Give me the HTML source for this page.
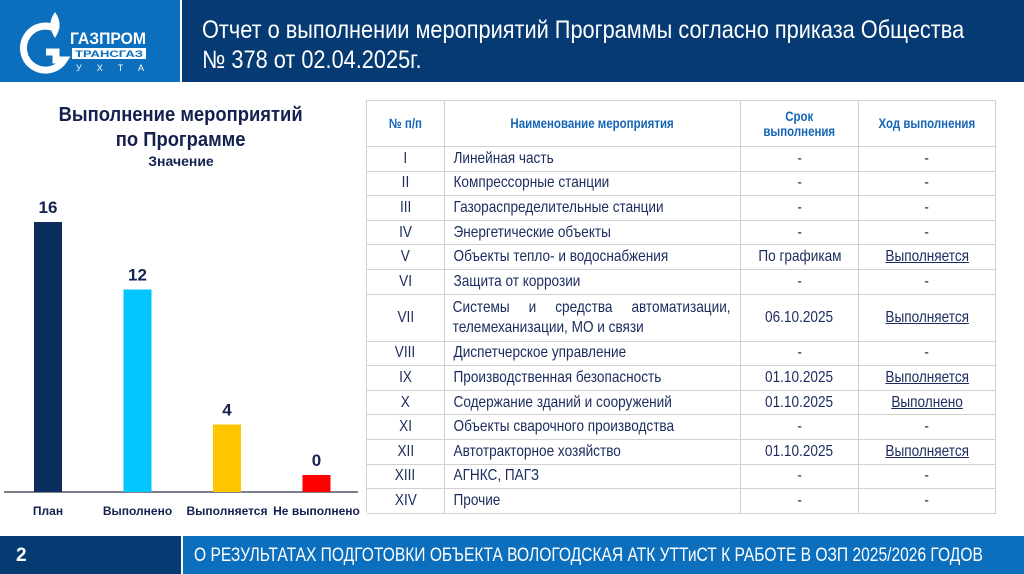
<!DOCTYPE html>
<html><head><meta charset="utf-8">
<style>
*{margin:0;padding:0;box-sizing:border-box}
body{width:1024px;height:574px;position:relative;background:#fff;font-family:"Liberation Sans",sans-serif;color:#1b2b5e;overflow:hidden}
.abs{position:absolute}
.nar{display:inline-block;transform:scaleX(.82);transform-origin:left top;white-space:nowrap}
#hdr-left{left:0;top:0;width:180px;height:82px;background:#0b6fbd}
#hdr-right{left:182px;top:0;width:842px;height:82px;background:#063a72;color:#fff;font-size:25px;line-height:30px;padding:15px 0 0 20px;overflow:hidden}
#hdr-right .nar{transform:scaleX(.87)}
#ftr-left{left:0;top:536px;width:181px;height:38px;background:#063a72;color:#fff;font-weight:bold;font-size:19px;padding:9px 0 0 16px}
#ftr-right{left:183px;top:536px;width:841px;height:38px;background:#0b6fbd;color:#fff;font-size:19px;padding:9px 0 0 11px;white-space:nowrap;overflow:hidden}
.cell{position:absolute;border-right:1px solid #d0d0d0;border-bottom:1px solid #d0d0d0;display:flex;align-items:center;font-size:16px;overflow:hidden}
.c{justify-content:center;text-align:center}
.cell .n{display:inline-block;transform:scaleX(.85);white-space:nowrap}
.c .n{transform-origin:center}
.hd{color:#1565b5;font-weight:bold;font-size:13.5px}
.u{text-decoration:underline}
</style></head><body>
<div class="abs" id="hdr-left">
 <svg width="180" height="82">
  <path d="M55 12 C48 22 50 30 55 38 C60 30 62 22 55 12Z" fill="#fff"/>
  <path d="M58 30 A22 22 0 1 0 64 60 L56 60 L56 52 L46 52" fill="none" stroke="#fff" stroke-width="7"/>
  <text x="70" y="44" fill="#fff" font-family="Liberation Sans,sans-serif" font-weight="bold" font-size="17" textLength="76" lengthAdjust="spacingAndGlyphs">ГАЗПРОМ</text>
  <rect x="72" y="48" width="74" height="11" fill="#fff"/>
  <text x="75" y="57" fill="#0b6fbd" font-family="Liberation Sans,sans-serif" font-weight="bold" font-size="9" textLength="68" lengthAdjust="spacingAndGlyphs">ТРАНСГАЗ</text>
  <text x="76" y="71" fill="#fff" font-family="Liberation Sans,sans-serif" font-size="9" textLength="68">УХТА</text>
 </svg>
</div>
<div class="abs" id="hdr-right"><span class="nar">Отчет о выполнении мероприятий Программы согласно приказа Общества<br>№ 378 от 02.04.2025г.</span></div>

<div class="abs" style="left:0;top:103px;width:362px;text-align:center;font-weight:bold;font-size:20px;line-height:25px;color:#14214f"><span style="display:inline-block;transform:scaleX(.92)">Выполнение мероприятий<br>по Программе</span></div>
<div class="abs" style="left:0;top:153px;width:362px;text-align:center;font-weight:bold;font-size:14px;color:#14214f">Значение</div>
<svg class="abs" id="chart" style="left:0;top:180px" width="362" height="345"></svg>

<div class="abs" id="table" style="left:366px;top:100px;width:630px;height:412px;border-top:1px solid #d0d0d0;border-left:1px solid #d0d0d0"></div>

<div class="abs" id="ftr-left">2</div>
<div class="abs" id="ftr-right"><span class="nar">О РЕЗУЛЬТАТАХ ПОДГОТОВКИ ОБЪЕКТА ВОЛОГОДСКАЯ АТК УТТиСТ К РАБОТЕ В ОЗП 2025/2026 ГОДОВ</span></div>

<script>
const categories=["План","Выполнено","Выполняется","Не выполнено"];
const values=[16,12,4,0];
const colors=["#0a2f5f","#00c5ff","#ffc600","#ff0000"];
const NS="http://www.w3.org/2000/svg";
const svg=document.getElementById('chart');
const base=312, maxV=16, plotH=270;
function yPos(v){return base-Math.max(v/maxV*plotH,17);}
function xc(i){return 48+i*89.5;}
const ax=document.createElementNS(NS,'line');
ax.setAttribute('x1',4);ax.setAttribute('x2',358);ax.setAttribute('y1',base);ax.setAttribute('y2',base);
ax.setAttribute('stroke','#556');ax.setAttribute('stroke-width',1.5);


svg.appendChild(ax);
categories.forEach((c,i)=>{
 const r=document.createElementNS(NS,'rect');
 r.setAttribute('x',xc(i)-14);r.setAttribute('width',28);r.setAttribute('y',yPos(values[i]));r.setAttribute('height',base-yPos(values[i]));
 r.setAttribute('fill',colors[i]);
 
 
 svg.appendChild(r);
 const t=document.createElementNS(NS,'text');
 t.setAttribute('x',xc(i));t.setAttribute('y',yPos(values[i])-9);t.setAttribute('text-anchor','middle');
 t.setAttribute('font-size',17);t.setAttribute('font-weight','bold');t.setAttribute('fill','#14214f');
 t.setAttribute('font-family','Liberation Sans,sans-serif');
 t.textContent=values[i];
 
 
 svg.appendChild(t);
 const l=document.createElementNS(NS,'text');
 l.setAttribute('x',xc(i));l.setAttribute('y',base+23);l.setAttribute('text-anchor','middle');
 l.setAttribute('font-size',12);l.setAttribute('font-weight','bold');l.setAttribute('fill','#14214f');
 l.setAttribute('font-family','Liberation Sans,sans-serif');
 l.textContent=c;
 
 
 svg.appendChild(l);
});

const rows=[
["I","Линейная часть","-","-"],
["II","Компрессорные станции","-","-"],
["III","Газораспределительные станции","-","-"],
["IV","Энергетические объекты","-","-"],
["V","Объекты тепло- и водоснабжения","По графикам","Выполняется"],
["VI","Защита от коррозии","-","-"],
["VII","Системы и средства автоматизации,|телемеханизации, МО и связи","06.10.2025","Выполняется"],
["VIII","Диспетчерское управление","-","-"],
["IX","Производственная безопасность","01.10.2025","Выполняется"],
["X","Содержание зданий и сооружений","01.10.2025","Выполнено"],
["XI","Объекты сварочного производства","-","-"],
["XII","Автотракторное хозяйство","01.10.2025","Выполняется"],
["XIII","АГНКС, ПАГЗ","-","-"],
["XIV","Прочие","-","-"]];
const tb=document.getElementById('table');
const cx=[0,78,374,492,629];
function cell(x,w,tp,h,html,cls,name){
 const d=document.createElement('div');
 d.className='cell '+cls;
 d.style.left=x+'px';d.style.width=w+'px';d.style.top=tp+'px';d.style.height=h+'px';
 d.innerHTML=html;
 
 
 tb.appendChild(d);
}
const hdrs=["№ п/п","Наименование мероприятия","Срок<br>выполнения","Ход выполнения"];
hdrs.forEach((h,i)=>cell(cx[i],cx[i+1]-cx[i],0,46,'<span class="n">'+h+'</span>','c hd','header-cell'));
let rowTop=46;
rows.forEach(r=>{
 const h=r[0]==="VII"?47:24.6;
 cell(cx[0],cx[1]-cx[0],rowTop,h,'<span class="n">'+r[0]+'</span>','c','row-number');
 let name;
 if(r[1].indexOf('|')>=0){
  const p=r[1].split('|');
  name='<div style="padding-left:9px;line-height:20px;transform:scaleX(.85);transform-origin:left center;white-space:nowrap"><div style="display:flex;justify-content:space-between;width:327px">'+p[0].split(' ').map(w=>'<span>'+w+'</span>').join('')+'</div><div>'+p[1]+'</div></div>';
 } else {
  name='<span class="n" style="transform-origin:left center;padding-left:10px">'+r[1]+'</span>';
 }
 cell(cx[1],cx[2]-cx[1],rowTop,h,name,'','event-name');
 cell(cx[2],cx[3]-cx[2],rowTop,h,'<span class="n">'+r[2]+'</span>','c','deadline');
 cell(cx[3],cx[4]-cx[3],rowTop,h,r[3]==='-'?'<span class="n">-</span>':'<span class="n u">'+r[3]+'</span>','c','status');
 rowTop+=h;
});
</script>
</body></html>
